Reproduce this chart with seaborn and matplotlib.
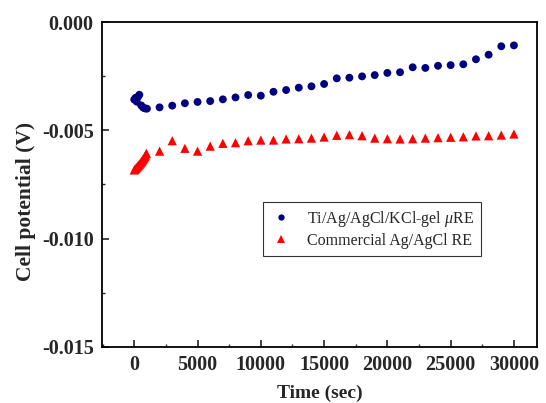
import numpy as np
import pandas as pd
import matplotlib
matplotlib.use("Agg")
import matplotlib.pyplot as plt
from matplotlib.ticker import MultipleLocator, FormatStrFormatter
import seaborn as sns

# Ti/Ag/AgCl/KCl-gel micro reference electrode
ti_time = [0, 100, 200, 300, 400, 550, 700, 850, 1000,
           2000, 3000, 4000, 5000, 6000, 7000, 8000, 9000, 10000,
           11000, 12000, 13000, 14000, 15000, 16000, 17000, 18000, 19000,
           20000, 21000, 22000, 23000, 24000, 25000, 26000, 27000, 28000,
           29000, 30000]
ti_potential = [-0.00358, -0.00350, -0.00368, -0.00345, -0.00336, -0.00385, -0.00395, -0.00399, -0.00400,
                -0.00394, -0.00386, -0.00375, -0.00369, -0.00365, -0.00357, -0.00348, -0.00337, -0.00340,
                -0.00322, -0.00314, -0.00303, -0.00297, -0.00286, -0.00260, -0.00257, -0.00251, -0.00245,
                -0.00235, -0.00232, -0.00209, -0.00212, -0.00202, -0.00199, -0.00195, -0.00172, -0.00151,
                -0.00112, -0.00108]

# Commercial Ag/AgCl reference electrode
ag_time = [0, 60, 120, 180, 240, 300, 360, 420, 480, 540, 600, 660, 720, 780, 840, 900, 960,
           2000, 3000, 4000, 5000, 6000, 7000, 8000, 9000, 10000,
           11000, 12000, 13000, 14000, 15000, 16000, 17000, 18000, 19000,
           20000, 21000, 22000, 23000, 24000, 25000, 26000, 27000, 28000,
           29000, 30000]
ag_potential = [-0.00683, -0.00679, -0.00676, -0.00672, -0.00668, -0.00664, -0.00660, -0.00656, -0.00651,
                -0.00647, -0.00642, -0.00637, -0.00632, -0.00627, -0.00621, -0.00614, -0.00606,
                -0.00596, -0.00548, -0.00583, -0.00596, -0.00573, -0.00560, -0.00557, -0.00548, -0.00545,
                -0.00545, -0.00540, -0.00539, -0.00536, -0.00531, -0.00523, -0.00520, -0.00525, -0.00536,
                -0.00539, -0.00540, -0.00539, -0.00536, -0.00534, -0.00532, -0.00530, -0.00526, -0.00525,
                -0.00522, -0.00517]

ti_label = "Ti/Ag/AgCl/KCl-gel $\\mu$RE"
ag_label = "Commercial Ag/AgCl RE"

df = pd.concat([
    pd.DataFrame({"time": ti_time, "potential": ti_potential, "electrode": ti_label}),
    pd.DataFrame({"time": ag_time, "potential": ag_potential, "electrode": ag_label}),
], ignore_index=True)

sns.set_style("ticks")
plt.rcParams["font.family"] = ["Liberation Serif", "DejaVu Serif"]
plt.rcParams["mathtext.fontset"] = "custom"
plt.rcParams["mathtext.it"] = "Liberation Serif:italic"
plt.rcParams["mathtext.rm"] = "Liberation Serif"

fig = plt.figure(figsize=(5.46, 4.03), dpi=100)
ax = fig.add_axes([0.1868, 0.139, 0.7962, 0.8064])

sns.scatterplot(
    data=df, x="time", y="potential",
    hue="electrode", style="electrode", size="electrode",
    palette={ti_label: "#000080", ag_label: "#ff0000"},
    markers={ti_label: "o", ag_label: "^"},
    sizes={ti_label: 32, ag_label: 44},
    linewidth=0, ax=ax, legend=True,
)

ax.set_xlim(-2550, 31800)
ax.set_ylim(-0.015, 0.0)
ax.xaxis.set_major_locator(MultipleLocator(5000))
ax.xaxis.set_minor_locator(MultipleLocator(2500))
ax.yaxis.set_major_locator(MultipleLocator(0.005))
ax.yaxis.set_minor_locator(MultipleLocator(0.0025))
ax.yaxis.set_major_formatter(FormatStrFormatter("%.3f"))

ax.tick_params(which="both", direction="in", top=False, right=False)
ax.tick_params(which="major", length=5, width=1.2, labelsize=14.5, pad=6)
ax.tick_params(which="minor", length=2.5, width=1.0)
for lab in ax.get_xticklabels() + ax.get_yticklabels():
    lab.set_fontweight("bold")

for side in ["left", "right", "top", "bottom"]:
    ax.spines[side].set_visible(True)
    ax.spines[side].set_linewidth(1.3)
    ax.spines[side].set_color("black")

ax.set_xlabel("Time (sec)", fontsize=14, fontweight="bold", labelpad=7)
ax.set_ylabel("Cell potential (V)", fontsize=15.5, fontweight="bold")
ax.yaxis.set_label_coords(-0.151, 0.449)

handles, labels = ax.get_legend_handles_labels()
leg = ax.legend(handles, labels, loc="upper left", bbox_to_anchor=(0.37, 0.447),
                borderaxespad=0, frameon=True, fancybox=False, shadow=False, fontsize=11.5,
                handlelength=1.4, handletextpad=0.9, borderpad=0.45,
                labelspacing=0.25, markerscale=0.8)
leg.get_frame().set_edgecolor("black")
leg.get_frame().set_linewidth(0.8)

fig.savefig("out.png", dpi=100)
